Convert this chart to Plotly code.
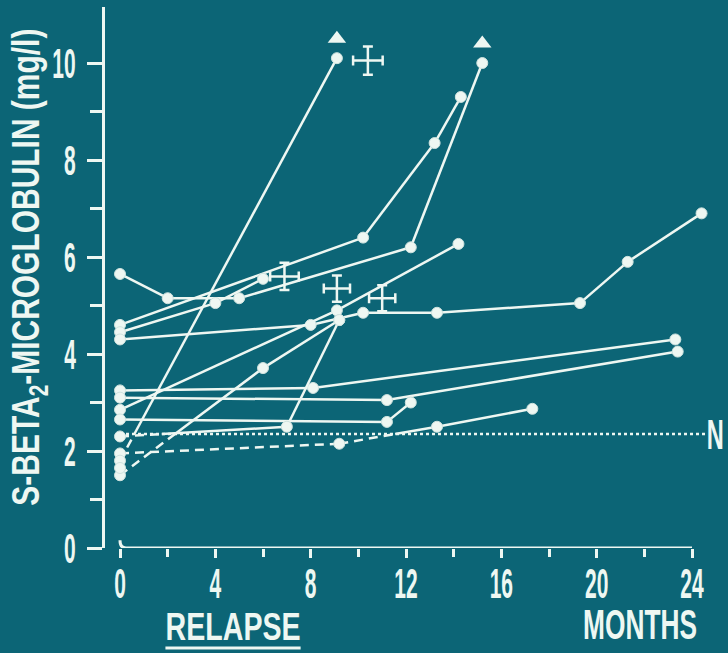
import plotly.graph_objects as go

# Months after relapse and serum beta-2-microglobulin (mg/l) for each patient
series_x = [
    [0, 2, 5, 12.2, 15.2],
    [0, 10.2, 13.2, 14.3],
    [0, 4, 6],
    [0, 8, 10.2, 13.3, 19.3, 21.3, 24.4],
    [0, 8.1, 23.3],
    [0, 11.2, 23.4],
    [0, 9.1, 14.2],
    [0, 11.2, 12.2],
    [0, 7, 9.2],
    [0, 9.2, 13.3, 17.3],
    [0, 9.1],
    [0, 6, 9.2],
    [0],
]
series_y = [
    [5.65, 5.15, 5.15, 6.2, 10.0],
    [4.6, 6.4, 8.35, 9.3],
    [4.45, 5.05, 5.55],
    [4.3, 4.6, 4.85, 4.85, 5.05, 5.9, 6.9],
    [3.25, 3.3, 4.3],
    [3.1, 3.05, 4.05],
    [2.85, 4.9, 6.27],
    [2.65, 2.6, 3.0],
    [2.3, 2.5, 4.7],
    [1.95, 2.15, 2.5, 2.87],
    [1.8, 10.1],
    [1.5, 3.71, 4.7],
    [1.65],
]
# series that keep rising beyond the scale (drawn with an arrow head)
rising = [0, 10]

# mean +/- SE markers
mean_x = [6.9, 9.1, 11.0, 10.4]
mean_y = [5.6, 5.35, 5.15, 10.05]
mean_ex = [0.6, 0.55, 0.55, 0.62]
mean_ey = [0.28, 0.27, 0.27, 0.29]

normal_level = 2.35

x_ticks = [0, 4, 8, 12, 16, 20, 24]
x_minor = [2, 6, 10, 14, 18, 22]
y_ticks = [0, 2, 4, 6, 8, 10]
y_minor = [1, 3, 5, 7, 9]

BG = "#0c6576"
FG = "#eef7f2"
FONT = "Liberation Sans, Arial, sans-serif"


def split_at_level(xs, ys, level):
    """Split a polyline into the part above and the part below a level."""
    above_x, above_y, below_x, below_y = [], [], [], []
    for i in range(len(xs) - 1):
        x0, y0, x1, y1 = xs[i], ys[i], xs[i + 1], ys[i + 1]
        pieces = []
        if (y0 - level) * (y1 - level) < 0:
            t = (level - y0) / (y1 - y0)
            xc = x0 + t * (x1 - x0)
            pieces.append((x0, y0, xc, level, y0 < level))
            pieces.append((xc, level, x1, y1, y1 < level))
        else:
            pieces.append((x0, y0, x1, y1, (y0 + y1) / 2 < level))
        for a, b, c, d, low in pieces:
            if low:
                below_x += [a, c, None]
                below_y += [b, d, None]
            else:
                above_x += [a, c, None]
                above_y += [b, d, None]
    return above_x, above_y, below_x, below_y


fig = go.Figure()

# normal limit
fig.add_trace(go.Scatter(
    x=[0, 24.65], y=[normal_level, normal_level], mode="lines",
    line=dict(color=FG, width=2.5, dash="3px,3px"), hoverinfo="skip"))

for xs, ys in zip(series_x, series_y):
    ax, ay, bx, by = split_at_level(xs, ys, normal_level)
    if ax:
        fig.add_trace(go.Scatter(x=ax, y=ay, mode="lines",
                                 line=dict(color=FG, width=2.5)))
    if bx:
        fig.add_trace(go.Scatter(x=bx, y=by, mode="lines",
                                 line=dict(color=FG, width=2.5, dash="9px,6px")))
    fig.add_trace(go.Scatter(x=xs, y=ys, mode="markers",
                             marker=dict(color=FG, size=11,
                                         line=dict(color="#cfe3df", width=1))))

for i in rising:
    fig.add_trace(go.Scatter(
        x=[series_x[i][-1]], y=[series_y[i][-1] + 0.4], mode="markers",
        marker=dict(symbol="triangle-up", size=16, color=FG)))

fig.add_trace(go.Scatter(
    x=mean_x, y=mean_y, mode="markers",
    marker=dict(size=1, color=FG),
    error_x=dict(type="data", array=mean_ex, color=FG, thickness=2.5, width=5),
    error_y=dict(type="data", array=mean_ey, color=FG, thickness=2.5, width=5)))

# x axis baseline, starting with a small upturn at month 0
fig.add_shape(type="path", xref="x", yref="y",
              path="M 0,0.16 Q 0,0 0.25,0 L 24,0",
              line=dict(color=FG, width=3))
# underline below RELAPSE
fig.add_shape(type="line", xref="paper", yref="paper",
              x0=0.097, x1=0.314, y0=-0.185, y1=-0.185,
              line=dict(color=FG, width=3))

label_font = dict(family=FONT, size=42, color=FG, weight="bold")
fig.add_annotation(x=24.95, y=normal_level, text="N", showarrow=False,
                   xanchor="center", yanchor="middle", font=label_font)
fig.add_annotation(xref="paper", yref="paper", x=-0.122, y=0.52,
                   text="S-BETA<sub>2</sub>-MICROGLOBULIN (mg/l)",
                   textangle=-90, showarrow=False,
                   xanchor="center", yanchor="middle",
                   font=dict(family=FONT, size=39, color=FG, weight="bold"))
fig.add_annotation(xref="paper", yref="paper", x=0.205, y=-0.145,
                   text="RELAPSE", showarrow=False,
                   xanchor="center", yanchor="middle",
                   font=dict(family=FONT, size=39, color=FG, weight="bold"))
fig.add_annotation(xref="paper", yref="paper", x=0.858, y=-0.142,
                   text="MONTHS", showarrow=False,
                   xanchor="center", yanchor="middle", font=label_font)

tick_font = dict(family=FONT, size=42, color=FG, weight="bold")
fig.update_layout(
    width=728, height=653,
    margin=dict(l=105, r=0, t=7, b=105),
    paper_bgcolor=BG, plot_bgcolor=BG,
    showlegend=False,
    xaxis=dict(range=[-0.63, 25.51], showgrid=False, zeroline=False,
               showline=False, tickvals=x_ticks,
               ticktext=[str(v) for v in x_ticks],
               ticks="outside", ticklen=9, tickwidth=3, tickcolor=FG,
               ticklabelstandoff=-10,
               minor=dict(tickvals=x_minor, ticks="outside",
                          ticklen=8, tickwidth=3, tickcolor=FG),
               tickfont=tick_font),
    yaxis=dict(range=[0, 11.155], showgrid=False, zeroline=False,
               showline=True, linecolor=FG, linewidth=3,
               tickvals=y_ticks, ticktext=[str(v) for v in y_ticks],
               ticks="outside", ticklen=15, tickwidth=3, tickcolor=FG,
               ticklabelstandoff=3,
               minor=dict(tickvals=y_minor, ticks="outside",
                          ticklen=12, tickwidth=3, tickcolor=FG),
               tickfont=tick_font),
)

# Narrow the lettering horizontally (tall condensed type) via SVG textLength,
# keeping each label's anchor point where plotly placed it.
condense_js = """
var gd = document.getElementById('{plot_id}');
var widths = {'RELAPSE': 135, 'MONTHS': 114, 'N': 17};
function fit(t, target) {
  if (t.getAttribute('data-fitted')) { return; }
  var bb0 = t.getBBox();
  var anchor = t.getAttribute('text-anchor') || 'start';
  var w = t.getComputedTextLength();
  if (target === null) { target = w * 0.5; }
  t.setAttribute('textLength', target);
  t.setAttribute('lengthAdjust', 'spacingAndGlyphs');
  var bb1 = t.getBBox();
  var ref0, ref1;
  if (anchor === 'end') { ref0 = bb0.x + bb0.width; ref1 = bb1.x + bb1.width; }
  else if (anchor === 'middle') { ref0 = bb0.x + bb0.width / 2; ref1 = bb1.x + bb1.width / 2; }
  else { ref0 = bb0.x; ref1 = bb1.x; }
  var dx = ref0 - ref1;
  if (Math.abs(dx) > 0.3) {
    t.setAttribute('transform', (t.getAttribute('transform') || '') + ' translate(' + dx + ',0)');
  }
  t.setAttribute('data-fitted', '1');
}
function condense() {
  gd.querySelectorAll('.xtick text, .ytick text').forEach(function (t) {
    fit(t, null);
  });
  gd.querySelectorAll('.annotation-text').forEach(function (t) {
    var s = t.textContent;
    if (widths[s] !== undefined) { fit(t, widths[s]); }
    else if (s.indexOf('BETA') >= 0) { fit(t, 477); }
  });
}
condense();
setTimeout(condense, 50);
"""

fig.write_html("out.html", post_script=condense_js)
